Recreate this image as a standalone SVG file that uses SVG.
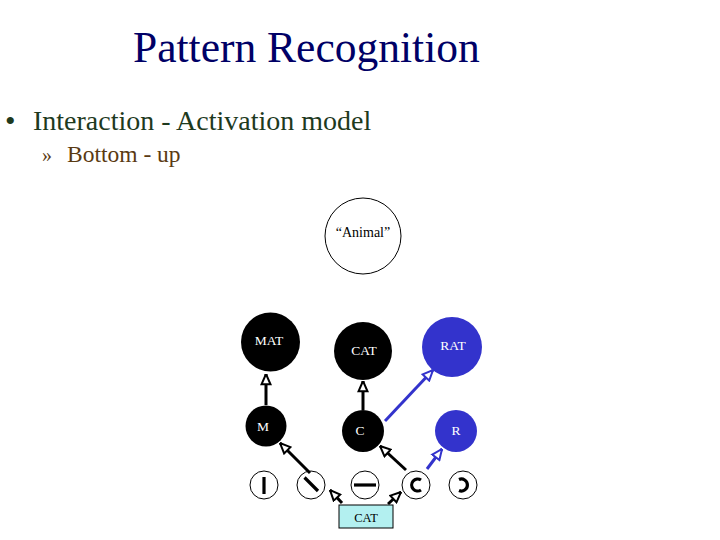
<svg xmlns="http://www.w3.org/2000/svg" width="720" height="540" viewBox="0 0 720 540">
<style>
.t{font-family:"Liberation Serif","Times New Roman",serif}
.lbl{font-family:"Liberation Serif","Times New Roman",serif;fill:#fff;text-anchor:middle}
.feat{fill:#fff;stroke:#000;stroke-width:1}
.glyph{fill:none;stroke:#000;stroke-width:3.2}
.ab{fill:none;stroke:#000;stroke-width:3}
.bl{fill:none;stroke:#3333cc;stroke-width:3}
</style>
<defs>
<marker id="ak" viewBox="0 0 12 12" refX="11.5" refY="6" markerWidth="12" markerHeight="12" markerUnits="userSpaceOnUse" orient="auto">
<path d="M1.2,1.5 L11.5,6 L1.2,10.5 Z" fill="#fff" stroke="#000" stroke-width="2"/>
</marker>
<marker id="abl" viewBox="0 0 12 12" refX="11.5" refY="6" markerWidth="12" markerHeight="12" markerUnits="userSpaceOnUse" orient="auto">
<path d="M1.2,1.5 L11.5,6 L1.2,10.5 Z" fill="#fff" stroke="#3333cc" stroke-width="2"/>
</marker>
</defs>
<rect width="720" height="540" fill="#fff"/>
<text class="t" x="133" y="62" font-size="43.5" fill="#000066">Pattern Recognition</text>
<text class="t" x="5" y="131" font-size="30" fill="#1e3a1e">•</text>
<text class="t" x="33" y="130" font-size="28" fill="#1e3a1e">Interaction - Activation model</text>
<text class="t" x="42" y="162" font-size="20" fill="#5a3a12">»</text>
<text class="t" x="67" y="162" font-size="23.5" fill="#5a3a12">Bottom - up</text>

<g id="animal"><circle cx="363" cy="236" r="38" fill="#fff" stroke="#000" stroke-width="1"/><text class="t" x="363" y="237" font-size="14" text-anchor="middle" fill="#000">“Animal”</text></g>
<g id="mat"><circle cx="270.5" cy="342" r="29.5" fill="#000"/><text class="lbl" x="269" y="345" font-size="13.5">MAT</text></g>
<g id="cat"><circle cx="363" cy="351" r="29" fill="#000"/><text class="lbl" x="364" y="355" font-size="13.5">CAT</text></g>
<g id="rat"><circle cx="452" cy="347" r="30" fill="#3333cc"/><text class="lbl" x="453" y="350" font-size="13.5">RAT</text></g>
<g id="m"><circle cx="266" cy="426" r="20.5" fill="#000"/><text class="lbl" x="263" y="431" font-size="13.5">M</text></g>
<g id="c"><circle cx="363" cy="431" r="21" fill="#000"/><text class="lbl" x="360" y="435" font-size="13.5">C</text></g>
<g id="r"><circle cx="456" cy="431" r="21" fill="#3333cc"/><text class="lbl" x="456" y="435" font-size="13.5">R</text></g>

<g id="f1"><circle class="feat" cx="264" cy="485" r="14"/><path class="glyph" d="M264,477 V494"/></g>
<g id="f2"><circle class="feat" cx="311" cy="485" r="14"/><path class="glyph" d="M304.5,477.5 L318,491"/></g>
<g id="f3"><circle class="feat" cx="365" cy="485" r="14"/><path class="glyph" d="M354,485 H376"/></g>
<g id="f4"><circle class="feat" cx="416" cy="485" r="14"/><path class="glyph" d="M421,480 A6 6 0 1 0 421,490"/></g>
<g id="f5"><circle class="feat" cx="463" cy="485" r="14"/><path class="glyph" d="M459,479.5 A6 6 0 1 1 459,490.5"/></g>

<g id="catbox"><rect x="339" y="505" width="54" height="23" fill="#b3f0f0" stroke="#000" stroke-width="1"/><text class="t" x="366" y="522" font-size="12.5" text-anchor="middle" fill="#000">CAT</text></g>

<g id="connectors">
<line class="ab" x1="266" y1="405" x2="266" y2="374" marker-end="url(#ak)"/>
<line class="ab" x1="363" y1="410" x2="363" y2="381" marker-end="url(#ak)"/>
<line class="ab" x1="310" y1="473" x2="280" y2="443" marker-end="url(#ak)"/>
<line class="ab" x1="406" y1="470" x2="380" y2="446" marker-end="url(#ak)"/>
<line class="bl" x1="385" y1="421" x2="433" y2="370" marker-end="url(#abl)"/>
<line class="bl" x1="427" y1="469" x2="442" y2="449" marker-end="url(#abl)"/>
<line class="ab" x1="342" y1="503" x2="330" y2="490" marker-end="url(#ak)"/>
<line class="ab" x1="388" y1="504" x2="401" y2="492" marker-end="url(#ak)"/>
</g>
</svg>
